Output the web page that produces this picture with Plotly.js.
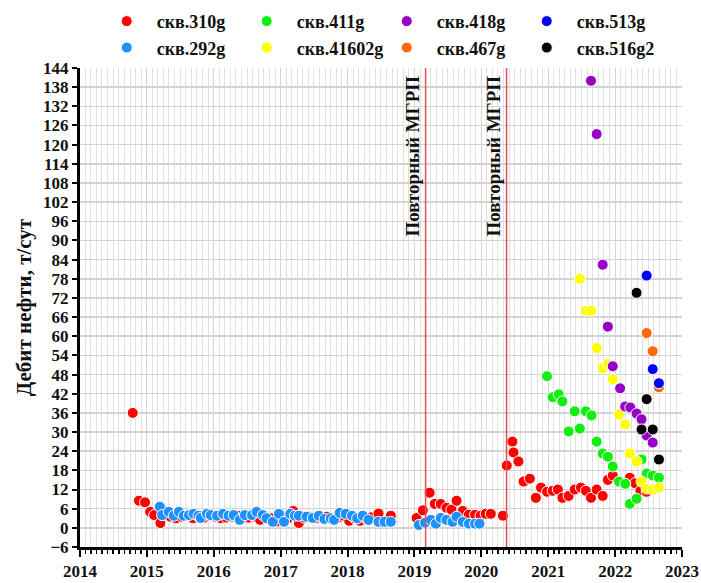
<!DOCTYPE html>
<html>
<head>
<meta charset="utf-8">
<script src="https://cdn.plot.ly/plotly-3.0.1.min.js"></script>
<style>html,body{margin:0;padding:0;background:#fff;}</style>
</head>
<body>
<div id="chart" style="width:701px;height:583px;"></div>
<script>
// ---- Data ----
const x310 = ['2014-10-16','2014-11-19','2014-12-22','2015-01-19','2015-02-10','2015-03-16',
  '2015-04-10','2015-05-10','2015-06-10','2015-07-10','2015-08-10','2015-09-10','2015-10-10','2015-11-10','2015-12-10',
  '2016-01-10','2016-02-10','2016-03-10','2016-04-10','2016-05-10','2016-06-10','2016-07-10','2016-08-10','2016-09-10','2016-10-10','2016-11-10','2016-12-10',
  '2017-01-10','2017-02-10','2017-03-10','2017-04-10','2017-05-10','2017-06-10','2017-07-10','2017-08-10','2017-09-10','2017-10-10','2017-11-10','2017-12-10',
  '2018-01-10','2018-02-10','2018-03-10','2018-04-10','2018-05-10',
  '2018-06-19','2018-08-25',
  '2019-01-13','2019-02-16','2019-03-25','2019-04-22','2019-05-25','2019-06-25','2019-07-22','2019-08-19','2019-09-22','2019-10-25','2019-11-28','2019-12-28',
  '2020-01-25','2020-02-22','2020-04-28','2020-05-19','2020-06-19','2020-06-25','2020-07-22','2020-08-19','2020-09-22','2020-10-25','2020-11-22','2020-12-25',
  '2021-01-25','2021-02-22','2021-03-19','2021-04-22','2021-05-25','2021-06-28','2021-07-25','2021-08-22','2021-09-22','2021-10-25','2021-11-22','2021-12-19',
  '2022-03-22','2022-04-19','2022-05-19','2022-06-22'];
const y310 = [36, 8.5, 8, 5, 4, 1.5,
  4, 3.5, 3, 3.5, 3.8, 3, 3.5, 3.2, 3.8,
  3.5, 3, 3.2, 3.5, 3.8, 3, 3.2, 3.5, 2.5, 3.5, 3, 2,
  3.5, 3, 5.3, 1.5, 3.2, 3.5, 3, 3.2, 3.5, 3, 3.2, 3.8,
  2.2, 3, 2.2, 3, 3.3,
  4.5, 3.8,
  3.1, 5.5, 11, 7.5, 7.5, 6.3, 5.7, 8.5, 5.3, 4.1, 4.1, 3.8,
  4.4, 4.4, 3.8, 19.5, 27, 23.6, 20.8, 14.5, 15.4, 9.4, 12.6, 11.3,
  11.6, 12, 9.4, 10, 12, 12.6, 11.6, 9.4, 12, 10, 15, 16.4,
  15.7, 14, 11.6, 11.3];

const x292 = ['2015-03-13','2015-03-25','2015-05-01','2015-05-28','2015-06-25','2015-07-22','2015-08-19','2015-09-13','2015-10-10','2015-10-22','2015-11-25','2015-12-16',
  '2016-01-19','2016-02-21','2016-03-22','2016-04-19','2016-05-22','2016-06-19','2016-07-28','2016-08-22','2016-09-25','2016-10-16','2016-11-19','2016-12-22',
  '2017-01-19','2017-02-22','2017-03-19','2017-04-10','2017-05-22','2017-06-25','2017-07-28','2017-08-28','2017-10-01','2017-10-19','2017-11-19','2017-12-22',
  '2018-01-25','2018-02-22','2018-03-25','2018-04-25','2018-06-19','2018-07-22','2018-08-25',
  '2019-01-25','2019-02-28','2019-04-01','2019-04-28','2019-05-25','2019-06-25','2019-07-28','2019-08-19','2019-09-22','2019-10-25','2019-11-28','2019-12-22'];
const y292 = [6.6, 4, 5, 3.8, 5, 3.8, 4, 4.4, 3.8, 3.1, 4.4, 4,
  3.8, 4.4, 3.8, 4, 2.5, 4, 4, 5, 4, 3, 1.9, 4.4,
  1.9, 4.4, 3.8, 3.8, 3.5, 3.1, 3.8, 2.8, 3, 2.5, 4.7, 4.4,
  3.8, 3, 3.8, 2.5, 1.9, 1.9, 1.9,
  0.9, 1.6, 2.5, 1.3, 3.1, 2.5, 1.9, 3.5, 1.9, 1.3, 1.3, 1.3];

const x411 = ['2020-12-25','2021-01-25','2021-02-27','2021-03-19','2021-04-22','2021-05-25','2021-06-22','2021-07-25','2021-08-25','2021-09-22','2021-10-25','2021-11-22','2021-12-19',
  '2022-01-22','2022-02-25','2022-03-22','2022-04-28','2022-05-25','2022-06-22','2022-07-25','2022-08-28'];
const y411 = [47.5, 40.9, 41.8, 39.6, 30.2, 36.5, 31.1, 36.5, 35.2, 27, 23.3, 22.3, 19.2,
  14.5, 13.8, 7.5, 9.1, 21.4, 17, 16.4, 15.7];

const x41602 = ['2021-06-22','2021-07-25','2021-08-22','2021-09-22','2021-10-25','2021-11-22','2021-12-19',
  '2022-01-22','2022-02-25','2022-03-22','2022-04-28','2022-05-25','2022-06-22','2022-07-25','2022-08-28'];
const y41602 = [78, 68, 68, 56.3, 50, 51.3, 46.5, 35.5, 32.4, 23.3, 20.8, 14.5, 12.3, 12, 12.6];

const x418 = ['2021-08-22','2021-09-22','2021-10-25','2021-11-22','2021-12-19',
  '2022-01-28','2022-02-25','2022-03-25','2022-04-28','2022-05-25','2022-06-22','2022-07-25'];
const y418 = [140, 123.3, 82.4, 63, 50.6, 43.7, 38, 37.7, 35.8, 34, 28.9, 26.7];

const x467 = ['2022-06-22','2022-07-25','2022-08-28'];
const y467 = [61, 55.3, 44];

const x513 = ['2022-06-22','2022-07-25','2022-08-28'];
const y513 = [79, 49.7, 45.3];

const x516 = ['2022-04-28','2022-05-25','2022-06-22','2022-07-25','2022-08-28'];
const y516 = [73.6, 30.8, 40.3, 30.8, 21.4];

const fracDates = ['2019-03-03', '2020-05-18'];
const fracLabel = 'Повторный МГРП';
const yTitle = 'Дебит нефти, т/сут';

// ---- Traces ----
const serif = 'Liberation Serif, Times New Roman, serif';
function tr(name, x, y, color, rank) {
  return {type: 'scatter', mode: 'markers', name: name, x: x, y: y, legendrank: rank,
    marker: {color: color, size: 11, line: {color: '#ffffff', width: 1}}};
}
const data = [
  tr('скв.310g', x310, y310, '#ff0000', 1),
  tr('скв.292g', x292, y292, '#1e90ff', 5),
  tr('скв.411g', x411, y411, '#11ee11', 2),
  tr('скв.41602g', x41602, y41602, '#ffff00', 6),
  tr('скв.418g', x418, y418, '#9400c8', 3),
  tr('скв.467g', x467, y467, '#ff6a10', 7),
  tr('скв.513g', x513, y513, '#0000ff', 4),
  tr('скв.516g2', x516, y516, '#000000', 8)
];

const shapes = fracDates.map(d => ({type: 'line', xref: 'x', yref: 'paper', x0: d, x1: d, y0: 0, y1: 1,
  line: {color: '#e05050', width: 1.5}}));
const annotations = fracDates.map(d => ({xref: 'x', yref: 'paper', x: d, y: 1, xanchor: 'right', yanchor: 'top',
  xshift: -1, yshift: -6, textangle: -90, text: '<b>' + fracLabel + '</b>', showarrow: false,
  font: {family: serif, size: 19, color: '#111'}}));

const layout = {
  width: 701, height: 583,
  margin: {l: 80, r: 19, t: 68, b: 36},
  paper_bgcolor: '#fff', plot_bgcolor: '#fff',
  showlegend: true,
  legend: {orientation: 'h', x: 0.138, xanchor: 'left', y: 0.995, yanchor: 'top', yref: 'container', xref: 'container',
    entrywidth: 75, itemwidth: 50, traceorder: 'normal', tracegroupgap: 0,
    font: {family: serif, size: 18, color: '#111', weight: 'bold'}},
  xaxis: {type: 'date', range: ['2014-01-01', '2023-01-01'], tick0: '2014-01-01', dtick: 'M12',
    tickformat: '%Y', ticks: 'outside', ticklen: 7, tickwidth: 2, tickcolor: '#000',
    showline: true, linecolor: '#000', linewidth: 3, showgrid: true, gridcolor: '#d4d4d4', gridwidth: 1,
    minor: {dtick: 'M1', ticks: 'outside', ticklen: 4, tickwidth: 1.5, tickcolor: '#000', showgrid: true, gridcolor: '#e0e0e0', gridwidth: 1},
    tickfont: {family: serif, size: 17, color: '#111', weight: 'bold'}, zeroline: false, mirror: false},
  yaxis: {range: [-6, 144], tick0: 0, dtick: 6, ticks: 'outside', ticklen: 5, tickwidth: 2, tickcolor: '#000',
    showline: true, linecolor: '#000', linewidth: 3, showgrid: true, gridcolor: '#d4d4d4', gridwidth: 1.5,
    zeroline: false,
    tickfont: {family: serif, size: 17, color: '#111', weight: 'bold'},
    title: {text: yTitle, standoff: 6, font: {family: serif, size: 21, color: '#111', weight: 'bold'}}},
  shapes: shapes,
  annotations: annotations
};

Plotly.newPlot('chart', data, layout, {displayModeBar: false, staticPlot: true});
</script>
</body>
</html>
